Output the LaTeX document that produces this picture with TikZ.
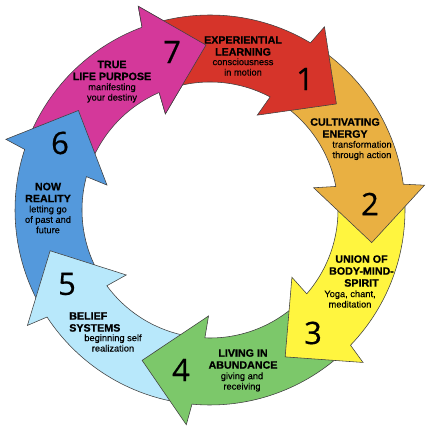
\documentclass[tikz,border=0pt]{standalone}
\usepackage{fontspec}
\setmainfont{Liberation Sans}
\newfontfamily\numfont{Open Sans}[FakeBold=0.5]
\newfontfamily\headfont{Liberation Sans Bold}[FakeBold=0.9]
\newfontfamily\subfont{Liberation Sans}[FakeBold=0.4]
\definecolor{learnred}{HTML}{D6342A}
\definecolor{energyorange}{HTML}{E9B042}
\definecolor{unionyellow}{HTML}{FFF53F}
\definecolor{abundgreen}{HTML}{7CC86A}
\definecolor{beliefblue}{HTML}{B8E8FB}
\definecolor{realityblue}{HTML}{5499DC}
\definecolor{purposepink}{HTML}{D4389A}
\begin{document}
\begin{tikzpicture}[
        x=0.025cm, y=0.025cm,
        segment/.style={draw=black!75, line width=0.4pt, line join=miter},
        title/.style={font=\headfont\fontsize{7.6}{8.5}\selectfont, align=center, inner sep=0pt},
        subtitle/.style={font=\subfont\fontsize{6.6}{7.4}\selectfont, align=center, inner sep=0pt},
        stepnum/.style={font=\numfont\fontsize{22}{22}\selectfont, inner sep=0pt}
    ]
    \useasboundingbox (0,0) rectangle (430,431);

    % Cycle arrows (drawn backwards so every head lies on the next tail)
    \begin{scope}[shift={(210,221)}]
    \draw[segment, fill=purposepink] (159.8:195) arc[start angle=159.8, end angle=110.4, radius=195] -- (109.4:216) -- (91.4:165) -- (114.9:106) -- (113.4:128) arc[start angle=113.4, end angle=159.8, radius=128] -- cycle;
    \draw[segment, fill=realityblue] (211.3:195) arc[start angle=211.3, end angle=161.9, radius=195] -- (160.9:216) -- (142.9:165) -- (166.4:106) -- (164.9:128) arc[start angle=164.9, end angle=211.3, radius=128] -- cycle;
    \draw[segment, fill=beliefblue] (-97.3:195) arc[start angle=-97.3, end angle=-146.7, radius=195] -- (-147.7:216) -- (-165.7:165) -- (-142.2:106) -- (-143.7:128) arc[start angle=-143.7, end angle=-97.3, radius=128] -- cycle;
    \draw[segment, fill=abundgreen] (-45.9:195) arc[start angle=-45.9, end angle=-95.3, radius=195] -- (-96.3:216) -- (-114.3:165) -- (-90.8:106) -- (-92.3:128) arc[start angle=-92.3, end angle=-45.9, radius=128] -- cycle;
    \draw[segment, fill=unionyellow] (5.5:195) arc[start angle=5.5, end angle=-43.9, radius=195] -- (-44.9:216) -- (-62.9:165) -- (-39.4:106) -- (-40.9:128) arc[start angle=-40.9, end angle=5.5, radius=128] -- cycle;
    \draw[segment, fill=energyorange] (57:195) arc[start angle=57, end angle=7.6, radius=195] -- (6.6:216) -- (-11.4:165) -- (12.1:106) -- (10.6:128) arc[start angle=10.6, end angle=57, radius=128] -- cycle;
    \draw[segment, fill=learnred] (108.4:195) arc[start angle=108.4, end angle=59, radius=195] -- (58:216) -- (40:165) -- (63.5:106) -- (62:128) arc[start angle=62, end angle=108.4, radius=128] -- cycle;
    % head of arrow 7 laid again over the tail of arrow 1
    \path[segment, fill=purposepink] (110.4:195) -- (109.4:216) -- (91.4:165) -- (114.9:106) -- (113.4:128);
    \end{scope}

    % Step numbers
    \node[stepnum] (n1) at (305,352) {1};
    \node[stepnum] (n2) at (370,227) {2};
    \node[stepnum] (n3) at (313,98) {3};
    \node[stepnum] (n4) at (181,61) {4};
    \node[stepnum] (n5) at (67,147) {5};
    \node[stepnum] (n6) at (60,288) {6};
    \node[stepnum] (n7) at (172,379) {7};

    % Step labels
    \node[title] (learn) at (243,385) {EXPERIENTIAL\\LEARNING};
    \node[subtitle] (learnsub) at (243,364) {consciousness\\in motion};
    \node[title] (energy) at (345,303) {CULTIVATING\\ENERGY};
    \node[subtitle] (energysub) at (362,280.5) {transformation\\through action};
    \node[title] (union) at (361.5,160) {UNION OF\\BODY-MIND-\\SPIRIT};
    \node[subtitle] (unionsub) at (350,132) {Yoga, chant,\\meditation};
    \node[title] (abund) at (243,72) {LIVING IN\\ABUNDANCE};
    \node[subtitle] (abundsub) at (242,49) {giving and\\receiving};
    \node[title, align=left, anchor=west] (belief) at (69,109) {BELIEF\\SYSTEMS};
    \node[subtitle] (beliefsub) at (113,88) {beginning self\\realization};
    \node[title] (reality) at (48,238.5) {NOW\\REALITY};
    \node[subtitle] (realitysub) at (48,211.5) {letting go\\of past and\\future};
    \node[title] (purpose) at (112,360.5) {TRUE\\LIFE PURPOSE};
    \node[subtitle] (purposesub) at (112,338) {manifesting\\your destiny};

\end{tikzpicture}
\end{document}
